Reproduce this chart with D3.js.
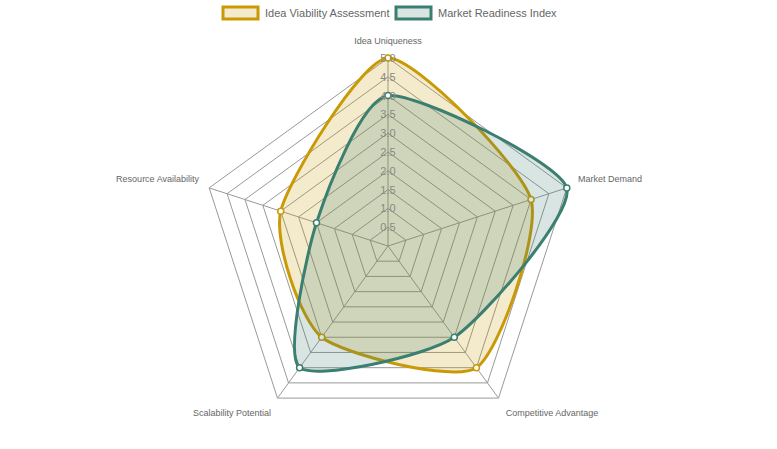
<!DOCTYPE html><html><head><script src="https://cdn.jsdelivr.net/npm/d3@7"></script>
<style>body{margin:0;background:#fff}text{font-family:Arial,"Liberation Sans",sans-serif}</style></head><body>
<svg id="c" width="777" height="449"></svg>
<script>
const categories=["Idea Uniqueness","Market Demand","Competitive Advantage","Scalability Potential","Resource Availability"];
const seriesNames=["Idea Viability Assessment","Market Readiness Index"];
const viability=[5,4,4,3,3];
const readiness=[4,5,3,4,2];
const ticks=[0.5,1,1.5,2,2.5,3,3.5,4,4.5,5];
const colors=["#c99a06","#3b7f70"], fills=["rgba(201,154,6,0.2)","rgba(59,127,112,0.2)"];
const svg=d3.select("#c"), cx=388, cy=246;
const r=d3.scaleLinear().domain([0,5]).range([0,188]);
const ang=i=>-Math.PI/2+i*2*Math.PI/categories.length;
const pt=(i,v)=>[cx+r(v)*Math.cos(ang(i)),cy+r(v)*Math.sin(ang(i))];
const g=svg.append("g");
ticks.forEach(t=>{g.append("polygon").attr("points",categories.map((c,i)=>pt(i,t).join(",")).join(" ")).attr("fill","none").attr("stroke","#999").attr("stroke-width",1);});
categories.forEach((c,i)=>{const p=pt(i,5);g.append("line").attr("x1",cx).attr("y1",cy).attr("x2",p[0]).attr("y2",p[1]).attr("stroke","#999");});
const line=d3.line().curve(d3.curveCardinalClosed.tension(0.35));
[viability,readiness].forEach((d,k)=>{
  const pts=d.map((v,i)=>pt(i,v));
  svg.append("path").attr("d",line(pts)).attr("fill",fills[k]).attr("stroke",colors[k]).attr("stroke-width",3);
  pts.forEach(p=>svg.append("circle").attr("cx",p[0]).attr("cy",p[1]).attr("r",3).attr("fill","#fff").attr("stroke",colors[k]).attr("stroke-width",1.5));
});
ticks.forEach(t=>svg.append("text").attr("x",cx).attr("y",cy-r(t)+4).attr("text-anchor","middle").attr("font-size",11).attr("fill","#888").text(t.toFixed(1)));
const lab=[[388,44,"middle"],[578,182,"start"],[552,416,"middle"],[232,416,"middle"],[199,182,"end"]];
categories.forEach((c,i)=>svg.append("text").attr("x",lab[i][0]).attr("y",lab[i][1]).attr("text-anchor",lab[i][2]).attr("font-size",9).attr("fill","#666").text(c));
const lx=[223,396];
seriesNames.forEach((n,k)=>{
  svg.append("rect").attr("x",lx[k]).attr("y",7).attr("width",35).attr("height",12).attr("fill",fills[k]).attr("stroke",colors[k]).attr("stroke-width",3);
  svg.append("text").attr("x",lx[k]+42).attr("y",17).attr("font-size",11).attr("fill","#666").text(n);
});
</script></body></html>
